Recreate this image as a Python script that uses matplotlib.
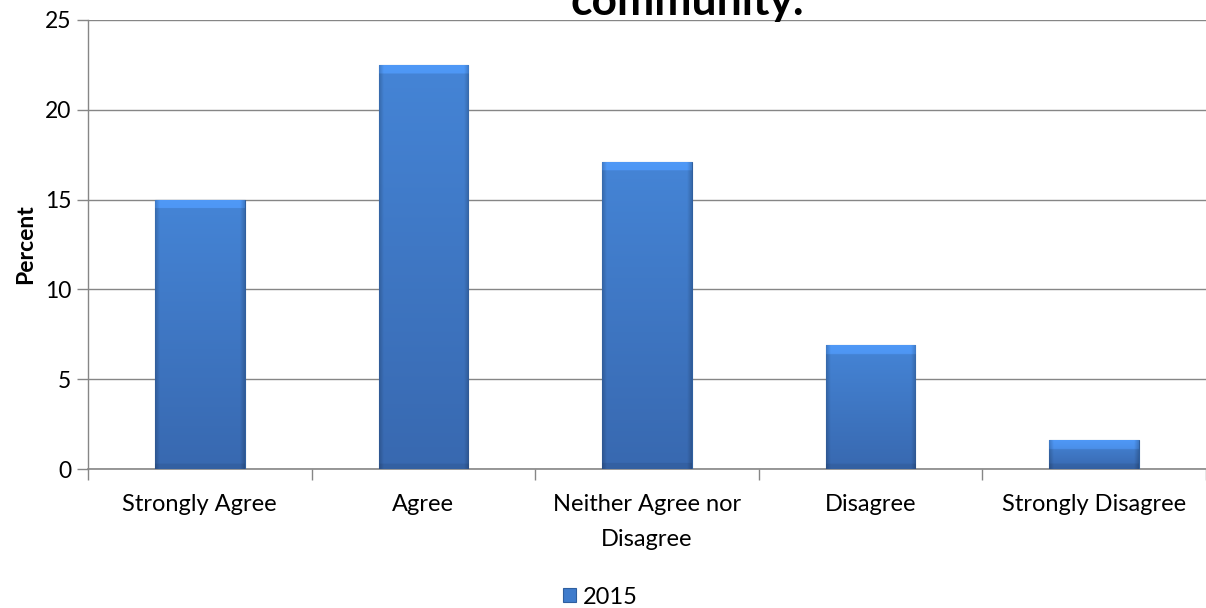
import matplotlib.pyplot as plt
import numpy as np

categories = ["Strongly Agree", "Agree", "Neither Agree nor\nDisagree", "Disagree", "Strongly Disagree"]
percent_2015 = [15.0, 22.5, 17.1, 6.9, 1.6]
series_name = "2015"
title_text = "community."

plt.rcParams['font.family'] = ['Lato', 'DejaVu Sans']

fig = plt.figure(figsize=(12.06, 6.08), dpi=100)
ax = fig.add_axes([88 / 1206, 139 / 608, 1 - 88 / 1206, 449 / 608])

x = np.arange(len(categories))
width = 0.4
bars = ax.bar(x, percent_2015, width=width, color='#3f7ccc', edgecolor='#2f5f9f',
              linewidth=0.8, zorder=3, label=series_name)

# shading for the bevelled look: lighter top, darker bottom and side edges
top_rgb = np.array([0.27, 0.52, 0.84])
bot_rgb = np.array([0.22, 0.41, 0.69])
for b in bars:
    x0, w, h = b.get_x(), b.get_width(), b.get_height()
    ny, nx = 300, 90
    yy = np.linspace(0, h, ny)[:, None, None]
    t = yy / max(h, 1e-9)
    img = bot_rgb + (top_rgb - bot_rgb) * t * np.ones((1, nx, 1))
    u = np.linspace(0, 1, nx)[None, :, None]
    edge = np.minimum(u, 1 - u)
    side = np.where(edge < 0.05, 0.82 + 3.6 * edge, 1.0)
    img = img * side
    bev = yy > (h - 0.5)
    img = np.where(bev, np.clip(img * 1.15, 0, 1), img)
    img = np.where(yy < 0.3, img * 0.92, img)
    im = ax.imshow(np.clip(img, 0, 1), extent=[x0, x0 + w, 0, h], origin='lower',
                   aspect='auto', zorder=3.5, interpolation='bilinear')
    im.set_clip_path(b)

ax.set_xlim(-0.5, len(categories) - 0.5)
ax.set_ylim(0, 25)
ax.set_yticks([0, 5, 10, 15, 20, 25])
ax.set_xticks(x)
ax.set_xticklabels(categories, fontsize=17, linespacing=1.8)
ax.set_xticks(np.arange(-0.5, len(categories), 1.0), minor=True)
ax.tick_params(axis='x', which='major', length=0, pad=18)
ax.tick_params(axis='x', which='minor', length=8, color='#868686', width=1)
ax.tick_params(axis='y', length=8, color='#868686', width=1, labelsize=16.5, pad=4)
ax.yaxis.grid(True, color='#868686', linewidth=1, zorder=0)
ax.set_axisbelow(True)
for s in ['top', 'right']:
    ax.spines[s].set_visible(False)
ax.spines['left'].set_color('#868686')
ax.spines['bottom'].set_color('#868686')
ax.spines['left'].set_linewidth(1)
ax.spines['bottom'].set_linewidth(1.2)

ax.set_ylabel("Percent", fontsize=16.5, fontweight='bold', labelpad=6)

# last line of the (cropped) chart title
fig.text(687 / 1206, 1 - 15 / 608, title_text, ha='center', va='baseline',
         fontsize=32, fontweight='bold')

leg = fig.legend(handles=[bars], labels=[series_name], loc='center',
                 bbox_to_anchor=(600 / 1206, 1 - 597 / 608), frameon=False,
                 fontsize=17, handlelength=0.55, handleheight=0.55, handletextpad=0.3)

fig.savefig("out.png", dpi=100)
